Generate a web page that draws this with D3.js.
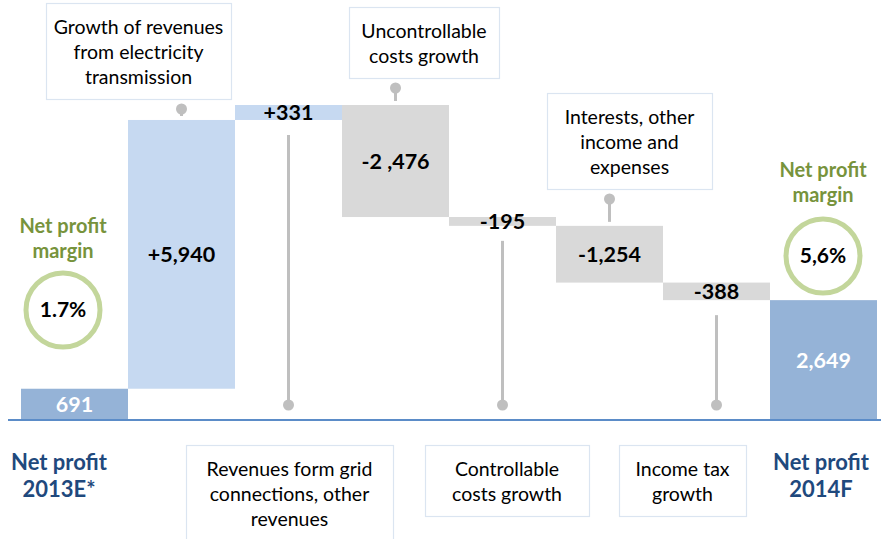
<!DOCTYPE html>
<html>
<head>
<meta charset="utf-8">
<script src="https://cdn.jsdelivr.net/npm/d3@7"></script>
<style>
  html, body { margin: 0; padding: 0; background: #ffffff; }
  svg { display: block; font-family: Lato, "Open Sans", sans-serif; }
</style>
</head>
<body>
<svg id="chart" width="881" height="539"></svg>
<script>
// ---------------- DATA ----------------
const categories = [
  "Net profit 2013E*",
  "Growth of revenues from electricity transmission",
  "Revenues form grid connections, other revenues",
  "Uncontrollable costs growth",
  "Controllable costs growth",
  "Interests, other income and expenses",
  "Income tax growth",
  "Net profit 2014F"
];
const values = [691, 5940, 331, -2476, -195, -1254, -388, 2649];
const valueLabels = ["691", "+5,940", "+331", "-2 ,476", "-195", "-1,254", "-388", "2,649"];
const barKinds = ["total", "increase", "increase", "decrease", "decrease", "decrease", "decrease", "total"];
const marginTitle = ["Net profit", "margin"];
const marginLabels = ["1.7%", "5,6%"];
const totalLabelLines = [["Net profit", "2013E*"], ["Net profit", "2014F"]];
const calloutLines = [
  null,
  ["Growth of revenues", "from electricity", "transmission"],
  ["Revenues form grid", "connections, other", "revenues"],
  ["Uncontrollable", "costs growth"],
  ["Controllable", "costs growth"],
  ["Interests, other", "income and", "expenses"],
  ["Income tax", "growth"],
  null
];
const calloutSide = [null, "top", "bottom", "top", "bottom", "top", "bottom", null];

// ---------------- COMPUTE WATERFALL ----------------
let running = 0;
const bars = values.map((v, i) => {
  let start, end;
  if (barKinds[i] === "total") { start = 0; end = v; running = v; }
  else { start = running; end = running + v; running = end; }
  return { i, cat: categories[i], value: v, label: valueLabels[i], kind: barKinds[i], start, end };
});
const maxLevel = d3.max(bars, d => Math.max(d.start, d.end));

// ---------------- SCALES ----------------
const svg = d3.select("#chart");
const baseY = 420;
const x = d3.scaleBand().domain(categories).range([21, 877]).paddingInner(0).paddingOuter(0);
const y = d3.scaleLinear().domain([0, maxLevel]).range([baseY, 105]);

const colors = { total: "#95b3d7", increase: "#c6d9f1", decrease: "#d9d9d9" };

// ---------------- CALLOUT LAYOUT ----------------
const boxLayout = {
  1: { x: 46, y: 3, w: 185 },
  2: { x: 186, y: 445, w: 207 },
  3: { x: 349, y: 7, w: 150 },
  4: { x: 425, y: 445, w: 164 },
  5: { x: 547, y: 93, w: 165 },
  6: { x: 619, y: 445, w: 127 }
};

// stems + dots
const stemColor = "#bfbfbf";
bars.forEach(b => {
  const side = calloutSide[b.i];
  if (!side) return;
  const L = boxLayout[b.i];
  const lines = calloutLines[b.i];
  const h = 21 + 25 * lines.length;
  const cx = x(b.cat) + x.bandwidth() / 2;
  const top = y(Math.max(b.start, b.end));
  const bottom = y(Math.min(b.start, b.end));
  let y1, y2, dotY;
  if (side === "top") {
    dotY = L.y + h + 10;
    y1 = dotY; y2 = top - 4;
  } else {
    dotY = 405;
    y1 = bottom + 15; y2 = dotY;
  }
  svg.append("line").attr("x1", cx).attr("x2", cx).attr("y1", y1).attr("y2", y2)
    .attr("stroke", stemColor).attr("stroke-width", 3);
  svg.append("circle").attr("cx", cx).attr("cy", dotY).attr("r", 5.5).attr("fill", stemColor);
});

// ---------------- BARS ----------------
svg.append("g").selectAll("rect").data(bars).join("rect")
  .attr("x", d => x(d.cat))
  .attr("width", x.bandwidth())
  .attr("y", d => y(Math.max(d.start, d.end)))
  .attr("height", d => Math.abs(y(d.start) - y(d.end)))
  .attr("fill", d => colors[d.kind]);

svg.append("g").selectAll("text").data(bars).join("text")
  .attr("x", d => x(d.cat) + x.bandwidth() / 2)
  .attr("y", d => (y(d.start) + y(d.end)) / 2)
  .attr("dy", "0.35em")
  .attr("text-anchor", "middle")
  .attr("font-size", 21.5)
  .attr("font-weight", "bold")
  .attr("fill", d => d.kind === "total" ? "#ffffff" : "#000000")
  .text(d => d.label);

// baseline
svg.append("line").attr("x1", 8).attr("x2", 881).attr("y1", baseY).attr("y2", baseY)
  .attr("stroke", "#5b8cc8").attr("stroke-width", 2);

// ---------------- CALLOUT BOXES ----------------
bars.forEach(b => {
  const lines = calloutLines[b.i];
  if (!lines) return;
  const L = boxLayout[b.i];
  const h = 21 + 25 * lines.length;
  const g = svg.append("g");
  g.append("rect").attr("x", L.x + 0.5).attr("y", L.y + 0.5).attr("width", L.w).attr("height", h)
    .attr("fill", "#ffffff").attr("stroke", "#dbe5f1").attr("stroke-width", 1.2);
  g.selectAll("text").data(lines).join("text")
    .attr("x", L.x + L.w / 2)
    .attr("y", (d, k) => L.y + 24 + 25 * k)
    .attr("dy", "0.35em")
    .attr("text-anchor", "middle")
    .attr("font-size", 19.5)
    .attr("fill", "#000000")
    .text(d => d);
});

// ---------------- MARGIN CIRCLES ----------------
const marginPos = [
  { cx: 63, cy: 310, ty: 226 },
  { cx: 823, cy: 256, ty: 170 }
];
marginLabels.forEach((m, k) => {
  const P = marginPos[k];
  svg.append("g").selectAll("text").data(marginTitle).join("text")
    .attr("x", P.cx).attr("y", (d, j) => P.ty + 25 * j)
    .attr("dy", "0.35em").attr("text-anchor", "middle")
    .attr("font-size", 20).attr("font-weight", "bold").attr("fill", "#77933c")
    .text(d => d);
  svg.append("circle").attr("cx", P.cx).attr("cy", P.cy).attr("r", 37)
    .attr("fill", "#ffffff").attr("stroke", "#c3d69b").attr("stroke-width", 5);
  svg.append("text").attr("x", P.cx).attr("y", P.cy).attr("dy", "0.35em")
    .attr("text-anchor", "middle").attr("font-size", 21).attr("font-weight", "bold")
    .attr("fill", "#000000").text(m);
});

// ---------------- TOTAL CATEGORY LABELS ----------------
const totalLabelX = [59, 821];
totalLabelLines.forEach((lines, k) => {
  svg.append("g").selectAll("text").data(lines).join("text")
    .attr("x", totalLabelX[k]).attr("y", (d, j) => 462 + 27 * j)
    .attr("dy", "0.35em").attr("text-anchor", "middle")
    .attr("font-size", 22).attr("font-weight", "bold").attr("fill", "#1f497d")
    .text(d => d);
});
</script>
</body>
</html>
